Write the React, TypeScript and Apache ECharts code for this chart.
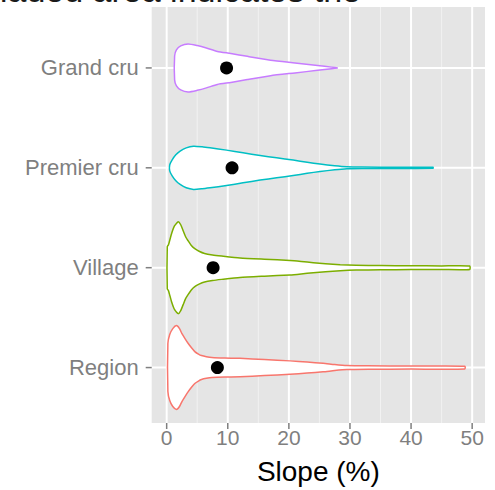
import React, { useEffect, useRef } from "react";
import * as echarts from "echarts";

// Wine appellation levels, bottom to top
const categories = ["Region", "Village", "Premier cru", "Grand cru"];
const levelColors = ["#F8766D", "#7CAE00", "#00BFC4", "#C77CFF"];

// Slope axis ticks (%)
const xTicks = [0, 10, 20, 30, 40, 50];
const xMinorTicks = [5, 15, 25, 35, 45];

// Mean slope per level (%)
const meanSlope = [8.3, 7.6, 10.7, 9.8];

// Violin outlines: [slope %, half width in category units]
const regionProfile = [
  [0.2, 0.24], [0.5, 0.33], [1.0, 0.39], [1.6, 0.42], [2.1, 0.39], [2.5, 0.34],
  [3.0, 0.29], [3.5, 0.243], [4.1, 0.195], [4.6, 0.16], [5.2, 0.135], [5.7, 0.12],
  [6.5, 0.108], [7.4, 0.1], [9.5, 0.095], [12, 0.093], [16, 0.08], [20.2, 0.067],
  [23, 0.055], [25.6, 0.043], [27.5, 0.03], [29.5, 0.02], [33, 0.017], [40, 0.015],
  [48.8, 0.014],
];
const villageProfile = [
  [0.1, 0.21], [0.3, 0.23], [0.8, 0.34], [1.3, 0.42], [1.9, 0.46], [2.3, 0.43],
  [2.7, 0.37], [3.1, 0.31], [3.5, 0.27], [4.0, 0.225], [4.6, 0.19], [5.3, 0.165],
  [6.2, 0.143], [7.5, 0.128], [9, 0.117], [12, 0.098], [16, 0.085], [20.2, 0.073],
  [22, 0.063], [24, 0.05], [26, 0.04], [28.4, 0.03], [31, 0.024], [35, 0.021],
  [40, 0.019], [45, 0.018], [49.6, 0.017],
];
const premierCruProfile = [
  [0.5, 0.03], [0.9, 0.08], [1.5, 0.13], [2.2, 0.167], [3.2, 0.2], [4.4, 0.216],
  [5.8, 0.21], [7.1, 0.2], [9.8, 0.177], [12.5, 0.15], [15.3, 0.123], [18, 0.1],
  [20.7, 0.077], [23, 0.055], [25.1, 0.037], [27.5, 0.02], [29.5, 0.01], [32, 0.007],
  [38, 0.006], [43.6, 0.005],
];
const grandCruProfile = [
  [1.3, 0.12], [1.6, 0.18], [2.3, 0.22], [3.5, 0.24], [5, 0.224], [6.5, 0.2],
  [8.3, 0.165], [10.5, 0.145], [13.2, 0.116], [17, 0.078], [21, 0.05], [24.7, 0.024],
  [27, 0.008], [28, 0],
];
const profiles = [regionProfile, villageProfile, premierCruProfile, grandCruProfile];

const X_MIN = -2.45;
const X_MAX = 52.1;
const Y_MIN = 0.445;
const Y_MAX = 4.61;

const TICK_FONT = "Liberation Sans, Arial, sans-serif";

export default function App() {
  const ref = useRef<HTMLDivElement>(null);

  useEffect(() => {
    if (!ref.current) return;
    const chart = echarts.init(ref.current, undefined, { renderer: "svg" });

    const option: any = {
      animation: false,
      grid: {
        left: 151.7,
        top: 7,
        right: 10,
        bottom: 65,
        show: true,
        backgroundColor: "#E5E5E5",
        borderWidth: 0,
      },
      xAxis: {
        type: "value",
        min: X_MIN,
        max: X_MAX,
        axisLine: { show: false },
        axisTick: { show: false },
        axisLabel: { show: false },
        splitLine: { show: false },
        name: "Slope (%)",
        nameLocation: "middle",
        nameGap: 34,
        nameTextStyle: { color: "#000", fontSize: 28, fontFamily: TICK_FONT },
      },
      yAxis: {
        type: "value",
        min: Y_MIN,
        max: Y_MAX,
        axisLine: { show: false },
        axisTick: { show: false },
        axisLabel: { show: false },
        splitLine: { show: false },
      },
      graphic: [
        {
          type: "text",
          x: 361,
          y: -10,
          style: {
            text: "The shaded area indicates the",
            fontSize: 34,
            fontFamily: TICK_FONT,
            fill: "#1a1a1a",
            align: "right",
            verticalAlign: "middle",
          },
        },
      ],
      series: [
        {
          // panel grid lines, tick marks and tick labels
          type: "custom",
          z: 1,
          silent: true,
          data: [[0, 1]],
          renderItem: (_params: any, api: any) => {
            const children: any[] = [];
            xMinorTicks.forEach((v) => {
              const a = api.coord([v, Y_MIN]);
              const b = api.coord([v, Y_MAX]);
              children.push({
                type: "line",
                shape: { x1: a[0], y1: a[1], x2: b[0], y2: b[1] },
                style: { stroke: "#F2F2F2", lineWidth: 1 },
              });
            });
            xTicks.forEach((v) => {
              const a = api.coord([v, Y_MIN]);
              const b = api.coord([v, Y_MAX]);
              children.push({
                type: "line",
                shape: { x1: a[0], y1: a[1], x2: b[0], y2: b[1] },
                style: { stroke: "#FFFFFF", lineWidth: 2 },
              });
              children.push({
                type: "line",
                shape: { x1: a[0], y1: a[1], x2: a[0], y2: a[1] + 6 },
                style: { stroke: "#7F7F7F", lineWidth: 1.5 },
              });
              children.push({
                type: "text",
                x: a[0],
                y: a[1] + 4,
                style: {
                  text: String(v),
                  fontSize: 21,
                  fontFamily: TICK_FONT,
                  fill: "#7F7F7F",
                  align: "center",
                  verticalAlign: "top",
                },
              });
            });
            categories.forEach((name, i) => {
              const a = api.coord([X_MIN, i + 1]);
              const b = api.coord([X_MAX, i + 1]);
              children.push({
                type: "line",
                shape: { x1: a[0], y1: a[1], x2: b[0], y2: b[1] },
                style: { stroke: "#FFFFFF", lineWidth: 2 },
              });
              children.push({
                type: "line",
                shape: { x1: a[0] - 6, y1: a[1], x2: a[0], y2: a[1] },
                style: { stroke: "#7F7F7F", lineWidth: 1.5 },
              });
              children.push({
                type: "text",
                x: a[0] - 13,
                y: a[1],
                style: {
                  text: name,
                  fontSize: 22,
                  fontFamily: TICK_FONT,
                  fill: "#7F7F7F",
                  align: "right",
                  verticalAlign: "middle",
                },
              });
            });
            return { type: "group", children };
          },
        },
        {
          // violins
          type: "custom",
          z: 2,
          data: categories.map((name, i) => ({ name, value: [meanSlope[i], i + 1] })),
          renderItem: (params: any, api: any) => {
            const i = params.dataIndex;
            const prof = profiles[i];
            const cat = i + 1;
            const upper = prof.map(([v, w]) => api.coord([v, cat + w]));
            const lower = prof
              .slice()
              .reverse()
              .map(([v, w]) => api.coord([v, cat - w]));
            return {
              type: "polygon",
              shape: { points: upper.concat(lower), smooth: 0.2 },
              style: { fill: "#FFFFFF", stroke: levelColors[i], lineWidth: 1.5 },
            };
          },
        },
        {
          // mean slope markers
          type: "scatter",
          z: 3,
          symbol: "circle",
          symbolSize: 13,
          itemStyle: { color: "#000000", opacity: 1 },
          data: meanSlope.map((m, i) => [m, i + 1]),
        },
      ],
    };

    chart.setOption(option);
    return () => chart.dispose();
  }, []);

  return (
    <div
      ref={ref}
      style={{
        position: "absolute",
        left: 0,
        top: 0,
        width: 495,
        height: 490,
        overflow: "hidden",
        background: "#FFFFFF",
      }}
    />
  );
}
